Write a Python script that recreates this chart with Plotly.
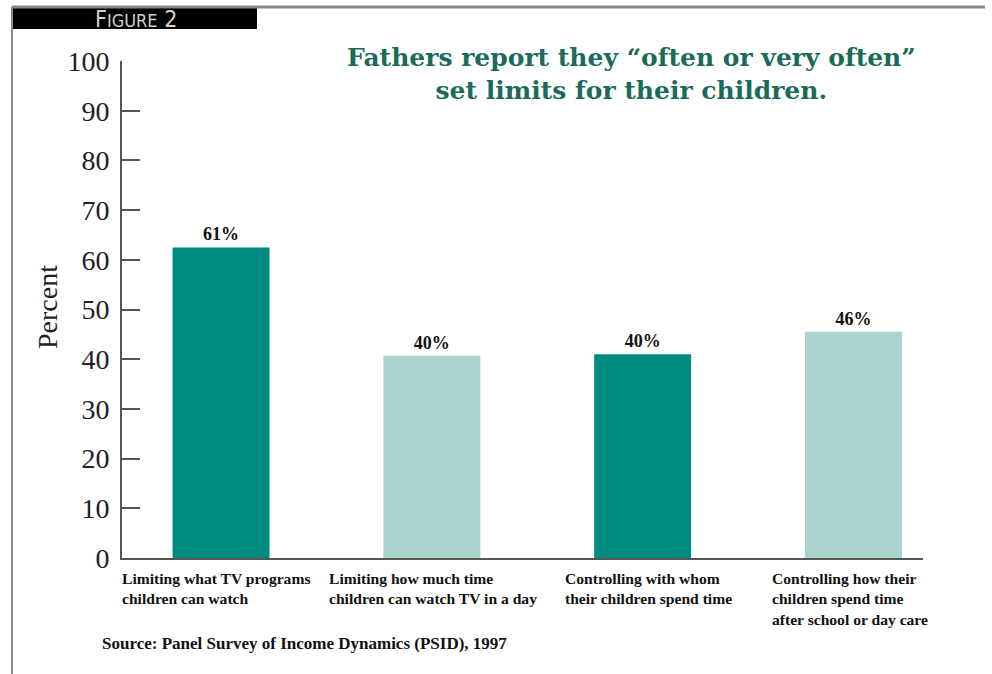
import plotly.graph_objects as go

# ---- data ----
categories = [
    "Limiting what TV programs<br>children can watch",
    "Limiting how much time<br>children can watch TV in a day",
    "Controlling with whom<br>their children spend time",
    "Controlling how their<br>children spend time<br>after school or day care",
]
bar_values = [62.5, 40.7, 41.0, 45.5]
bar_labels = ["61%", "40%", "40%", "46%"]
y_ticks = [0, 10, 20, 30, 40, 50, 60, 70, 80, 90, 100]

# ---- style ----
bar_colors = ["#008b80", "#a9d4cd", "#008b80", "#a9d4cd"]
label_left_px = [120, 327, 563, 770]
serif = "Liberation Serif"

W, H = 992, 674
L, R, T, B = 122, 923, 61, 558  # plot area pixel bounds


def px(xp):
    return (xp - L) / (R - L)


def py(yp):
    return (B - yp) / (B - T)


idx = list(range(len(categories)))
fig = go.Figure(
    go.Bar(
        x=idx,
        y=bar_values,
        width=0.46,
        marker=dict(color=bar_colors, line=dict(width=0)),
        text=bar_labels,
        textposition="outside",
        textfont=dict(family=serif, size=18, color="#111", weight="bold"),
        cliponaxis=False,
        hoverinfo="skip",
    )
)

fig.update_layout(
    width=W,
    height=H,
    margin=dict(l=L, r=W - R, t=T, b=H - B, pad=0),
    plot_bgcolor="white",
    paper_bgcolor="white",
    showlegend=False,
)

fig.update_xaxes(
    range=[-0.47, 3.33],
    showticklabels=False,
    ticks="",
    showgrid=False,
    zeroline=False,
    showline=True,
    linecolor="#555",
    linewidth=2,
)
fig.update_yaxes(
    range=[0, 100],
    tickvals=y_ticks,
    ticktext=[str(v) for v in y_ticks],
    ticks="inside",
    ticklen=18,
    tickwidth=2,
    tickcolor="#555",
    showgrid=False,
    zeroline=False,
    showline=True,
    linecolor="#555",
    linewidth=2,
    tickfont=dict(family=serif, size=28, color="#222"),
    ticklabelstandoff=5,
)

annotations = []
# axis title
annotations.append(dict(
    text="Percent", textangle=-90, xref="paper", yref="paper",
    x=px(47), y=py(307), xanchor="center", yanchor="middle", showarrow=False,
    font=dict(family=serif, size=28, color="#222"),
))
# chart title
annotations.append(dict(
    text="Fathers report they \u201coften or very often\u201d<br>set limits for their children.",
    xref="paper", yref="paper", x=px(631), y=py(41), xanchor="center", yanchor="top",
    showarrow=False, align="center",
    font=dict(family="DejaVu Serif", size=25, color="#1b6b5a", weight="bold"),
))
# category labels
for cat, lx in zip(categories, label_left_px):
    annotations.append(dict(
        text="<b>" + cat + "</b>", xref="paper", yref="paper",
        x=px(lx), y=py(568), xanchor="left", yanchor="top",
        showarrow=False, align="left",
        font=dict(family=serif, size=15.6, color="#111"),
    ))
# source
annotations.append(dict(
    text="<b>Source: Panel Survey of Income Dynamics (PSID), 1997</b>",
    xref="paper", yref="paper", x=px(100), y=py(643), xanchor="left", yanchor="middle",
    showarrow=False, font=dict(family=serif, size=17, color="#111"),
))
# figure label
annotations.append(dict(
    text="F<span style='font-size:18px'>IGURE</span> 2",
    xref="paper", yref="paper", x=px(136), y=py(19), xanchor="center", yanchor="middle",
    showarrow=False, font=dict(family="DejaVu Sans Condensed", size=23, color="#cfcfcf"),
))
fig.update_layout(annotations=annotations)

shapes = [
    dict(type="rect", xref="paper", yref="paper", x0=px(12), x1=px(257), y0=py(29), y1=py(8),
         fillcolor="black", line=dict(width=0), layer="below"),
    dict(type="line", xref="paper", yref="paper", x0=px(12), x1=px(985), y0=py(7), y1=py(7),
         line=dict(color="#888", width=3)),
    dict(type="line", xref="paper", yref="paper", x0=px(12), x1=px(12), y0=py(7), y1=py(674),
         line=dict(color="#888", width=2)),
]
fig.update_layout(shapes=shapes)

fig.write_html(
    "out.html",
    config={"displayModeBar": False},
    post_script="document.body.style.margin='0';document.body.style.overflow='hidden';",
)
